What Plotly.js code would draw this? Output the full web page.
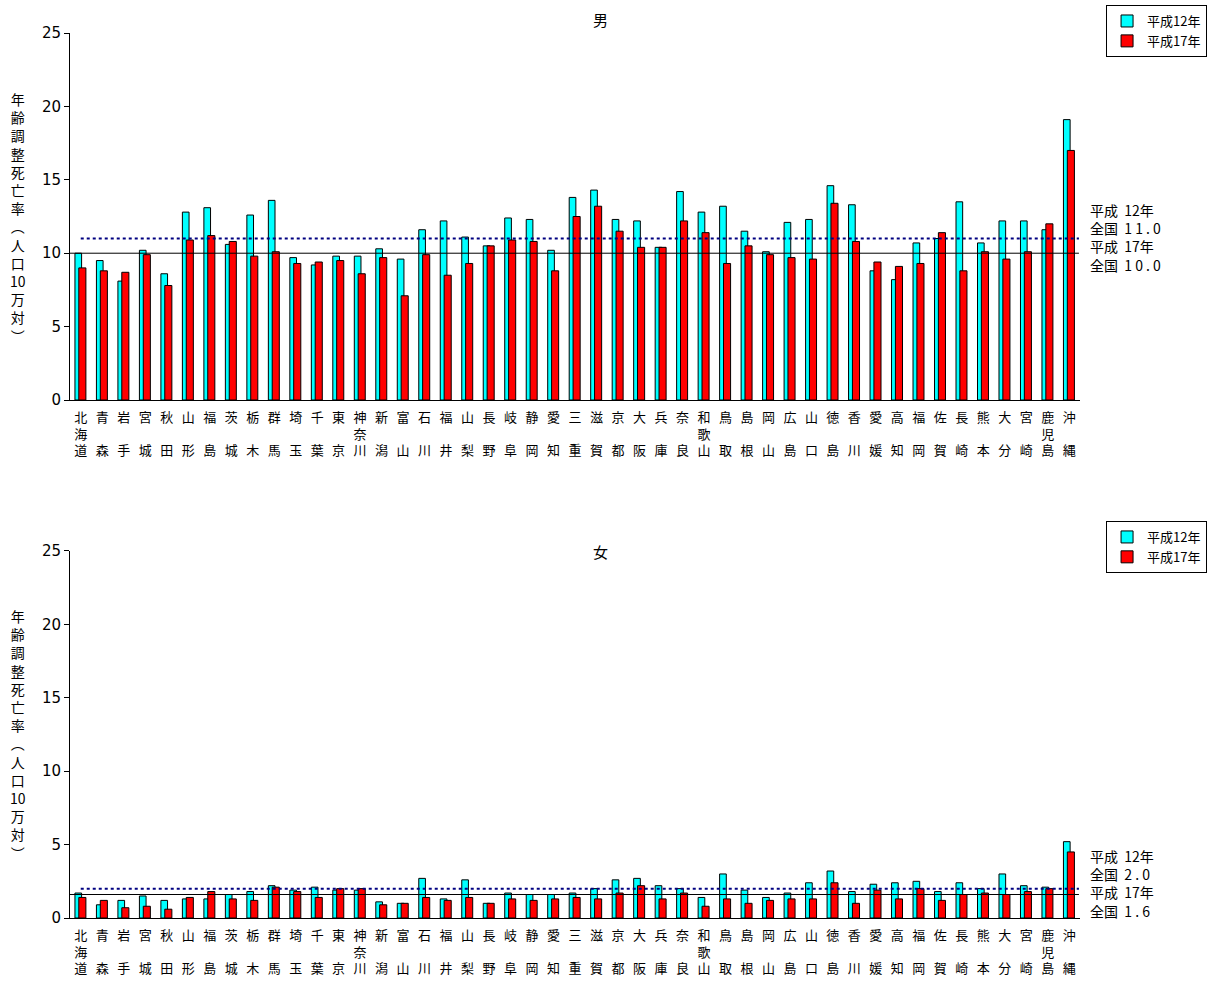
<!DOCTYPE html>
<html>
<head>
<meta charset="utf-8">
<script src="https://cdn.plot.ly/plotly-3.0.1.min.js"></script>
<style>html,body{margin:0;padding:0;background:#fff;}#chart{width:1212px;height:983px;}</style>
</head>
<body>
<div id="chart"></div>
<script>
// Prefectures (labels stacked vertically)
const prefectures = ["北海道","青森","岩手","宮城","秋田","山形","福島","茨城","栃木","群馬","埼玉","千葉","東京","神奈川","新潟","富山","石川","福井","山梨","長野","岐阜","静岡","愛知","三重","滋賀","京都","大阪","兵庫","奈良","和歌山","鳥取","島根","岡山","広島","山口","徳島","香川","愛媛","高知","福岡","佐賀","長崎","熊本","大分","宮崎","鹿児島","沖縄"];

const seriesNames = ["平成12年","平成17年"];

// 男
const maleH12 = [10.0,9.5,8.1,10.2,8.6,12.8,13.1,10.6,12.6,13.6,9.7,9.2,9.8,9.8,10.3,9.6,11.6,12.2,11.1,10.5,12.4,12.3,10.2,13.8,14.3,12.3,12.2,10.4,14.2,12.8,13.2,11.5,10.1,12.1,12.3,14.6,13.3,8.8,8.2,10.7,11.0,13.5,10.7,12.2,12.2,11.6,19.1];
const maleH17 = [9.0,8.8,8.7,9.9,7.8,10.9,11.2,10.8,9.8,10.1,9.3,9.4,9.5,8.6,9.7,7.1,9.9,8.5,9.3,10.5,10.9,10.8,8.8,12.5,13.2,11.5,10.4,10.4,12.2,11.4,9.3,10.5,9.9,9.7,9.6,13.4,10.8,9.4,9.1,9.3,11.4,8.8,10.1,9.6,10.1,12.0,17.0];
const maleNational = [11.0,10.0];

// 女
const femaleH12 = [1.7,0.9,1.2,1.5,1.2,1.3,1.3,1.6,1.8,2.2,1.9,2.1,1.9,1.9,1.1,1.0,2.7,1.3,2.6,1.0,1.7,1.6,1.6,1.7,2.0,2.6,2.7,2.2,2.0,1.4,3.0,1.9,1.4,1.7,2.4,3.2,1.8,2.3,2.4,2.5,1.8,2.4,2.0,3.0,2.2,2.1,5.2];
const femaleH17 = [1.4,1.2,0.7,0.8,0.6,1.4,1.8,1.3,1.2,2.1,1.8,1.4,2.0,2.0,0.9,1.0,1.4,1.2,1.4,1.0,1.3,1.2,1.3,1.4,1.3,1.7,2.2,1.3,1.7,0.8,1.3,1.0,1.2,1.3,1.3,2.4,1.0,1.9,1.3,2.0,1.2,1.6,1.7,1.6,1.8,2.0,4.5];
const femaleNational = [2.0,1.6];

function stackLabel(name){
  const ch = Array.from(name);
  if (ch.length === 2) return ch[0] + "<br>\u3000<br>" + ch[1];
  return ch.join("<br>");
}
const tickLabels = prefectures.map(stackLabel);
const idx = prefectures.map((_, i) => i);

const colors = ["#00FFFF", "#FF0000"];
const offsets = [-0.27, -0.09];
const widths = [0.31, 0.33];

function barTrace(vals, k, xa, ya, legendId){
  return {
    type: "bar", x: idx, y: vals, name: seriesNames[k],
    xaxis: xa, yaxis: ya, legend: legendId,
    offset: offsets[k], width: widths[k],
    marker: {color: colors[k], line: {color: "#000", width: 1}},
    hoverinfo: "y"
  };
}

const traces = [
  barTrace(maleH12, 0, "x", "y", "legend"),
  barTrace(maleH17, 1, "x", "y", "legend"),
  barTrace(femaleH12, 0, "x2", "y2", "legend2"),
  barTrace(femaleH17, 1, "x2", "y2", "legend2")
];

const font = "'Noto Sans CJK JP', 'Liberation Sans', sans-serif";

function xAxis(anchor){
  return {
    anchor: anchor, domain: [0, 1], range: [-0.5, 46.5],
    tickmode: "array", tickvals: idx, ticktext: tickLabels,
    showline: true, linecolor: "#000", linewidth: 1,
    ticks: "", showgrid: false, zeroline: false, automargin: false,
    ticklabelstandoff: 5,
    tickfont: {family: font, size: 13, color: "#000"},
    fixedrange: true
  };
}
function yAxis(anchor, domain){
  return {
    anchor: anchor, domain: domain, range: [0, 25], dtick: 5, tick0: 0,
    showline: true, linecolor: "#000", linewidth: 1,
    ticks: "outside", ticklen: 5, tickcolor: "#000",
    showgrid: false, zeroline: false, automargin: false,
    tickfont: {family: "'DejaVu Sans', 'Liberation Sans', sans-serif", size: 15, color: "#000"},
    fixedrange: true
  };
}

function refLines(nat, xref, yref){
  return [
    {type: "line", xref: xref, yref: yref, x0: 0, x1: 46.45, y0: nat[0], y1: nat[0],
     line: {color: "#000080", width: 2, dash: "dot"}},
    {type: "line", xref: xref, yref: yref, x0: -0.5, x1: 46.45, y0: nat[1], y1: nat[1],
     line: {color: "#000", width: 1}}
  ];
}

const yTitle = Array.from("年齢調整死亡率︵人口").join("<br>") + "<br>10<br>" + Array.from("万対︶").join("<br>");

function natText(nat){
  return "平成  12年<br>全国  " + nat[0].toFixed(1).split("").join(" ") + "<br>平成  17年<br>全国  " + nat[1].toFixed(1).split("").join(" ");
}

const annotations = [
  {text: "男", xref: "paper", yref: "paper", x: 0.525, y: 1.0147, showarrow: false,
   font: {family: font, size: 15, color: "#000"}, xanchor: "center", yanchor: "middle"},
  {text: "女", xref: "paper", yref: "paper", x: 0.525, y: 0.4136, showarrow: false,
   font: {family: font, size: 15, color: "#000"}, xanchor: "center", yanchor: "middle"},
  {text: yTitle, xref: "paper", yref: "paper", x: -0.0515, y: 0.792, showarrow: false,
   font: {family: font, size: 14, color: "#000"}, xanchor: "center", yanchor: "middle", align: "center"},
  {text: yTitle, xref: "paper", yref: "paper", x: -0.0515, y: 0.2068, showarrow: false,
   font: {family: font, size: 14, color: "#000"}, xanchor: "center", yanchor: "middle", align: "center"},
  {text: natText(maleNational), xref: "paper", yref: "paper", x: 1.0079, y: 0.7684, showarrow: false,
   font: {family: font, size: 14, color: "#000"}, xanchor: "left", yanchor: "middle", align: "left"},
  {text: natText(femaleNational), xref: "paper", yref: "paper", x: 1.0079, y: 0.0395, showarrow: false,
   font: {family: font, size: 14, color: "#000"}, xanchor: "left", yanchor: "middle", align: "left"}
];

const legendStyle = {
  xanchor: "right", yanchor: "top", x: 1.1258,
  bgcolor: "#fff", bordercolor: "#000", borderwidth: 1,
  font: {family: font, size: 13, color: "#000"},
  itemwidth: 30, tracegroupgap: 0
};

const layout = {
  width: 1212, height: 983,
  margin: {l: 70, r: 132, t: 33, b: 65, autoexpand: false},
  paper_bgcolor: "#fff", plot_bgcolor: "#fff",
  barmode: "overlay",
  showlegend: true,
  xaxis: xAxis("y"),
  yaxis: yAxis("x", [0.5853, 1]),
  xaxis2: xAxis("y2"),
  yaxis2: yAxis("x2", [0, 0.4147]),
  legend: Object.assign({}, legendStyle, {y: 1.0316}),
  legend2: Object.assign({}, legendStyle, {y: 0.4486}),
  shapes: refLines(maleNational, "x", "y").concat(refLines(femaleNational, "x2", "y2")),
  annotations: annotations,
  font: {family: font, color: "#000"}
};

Plotly.newPlot("chart", traces, layout, {displayModeBar: false, staticPlot: true});
</script>
</body>
</html>
